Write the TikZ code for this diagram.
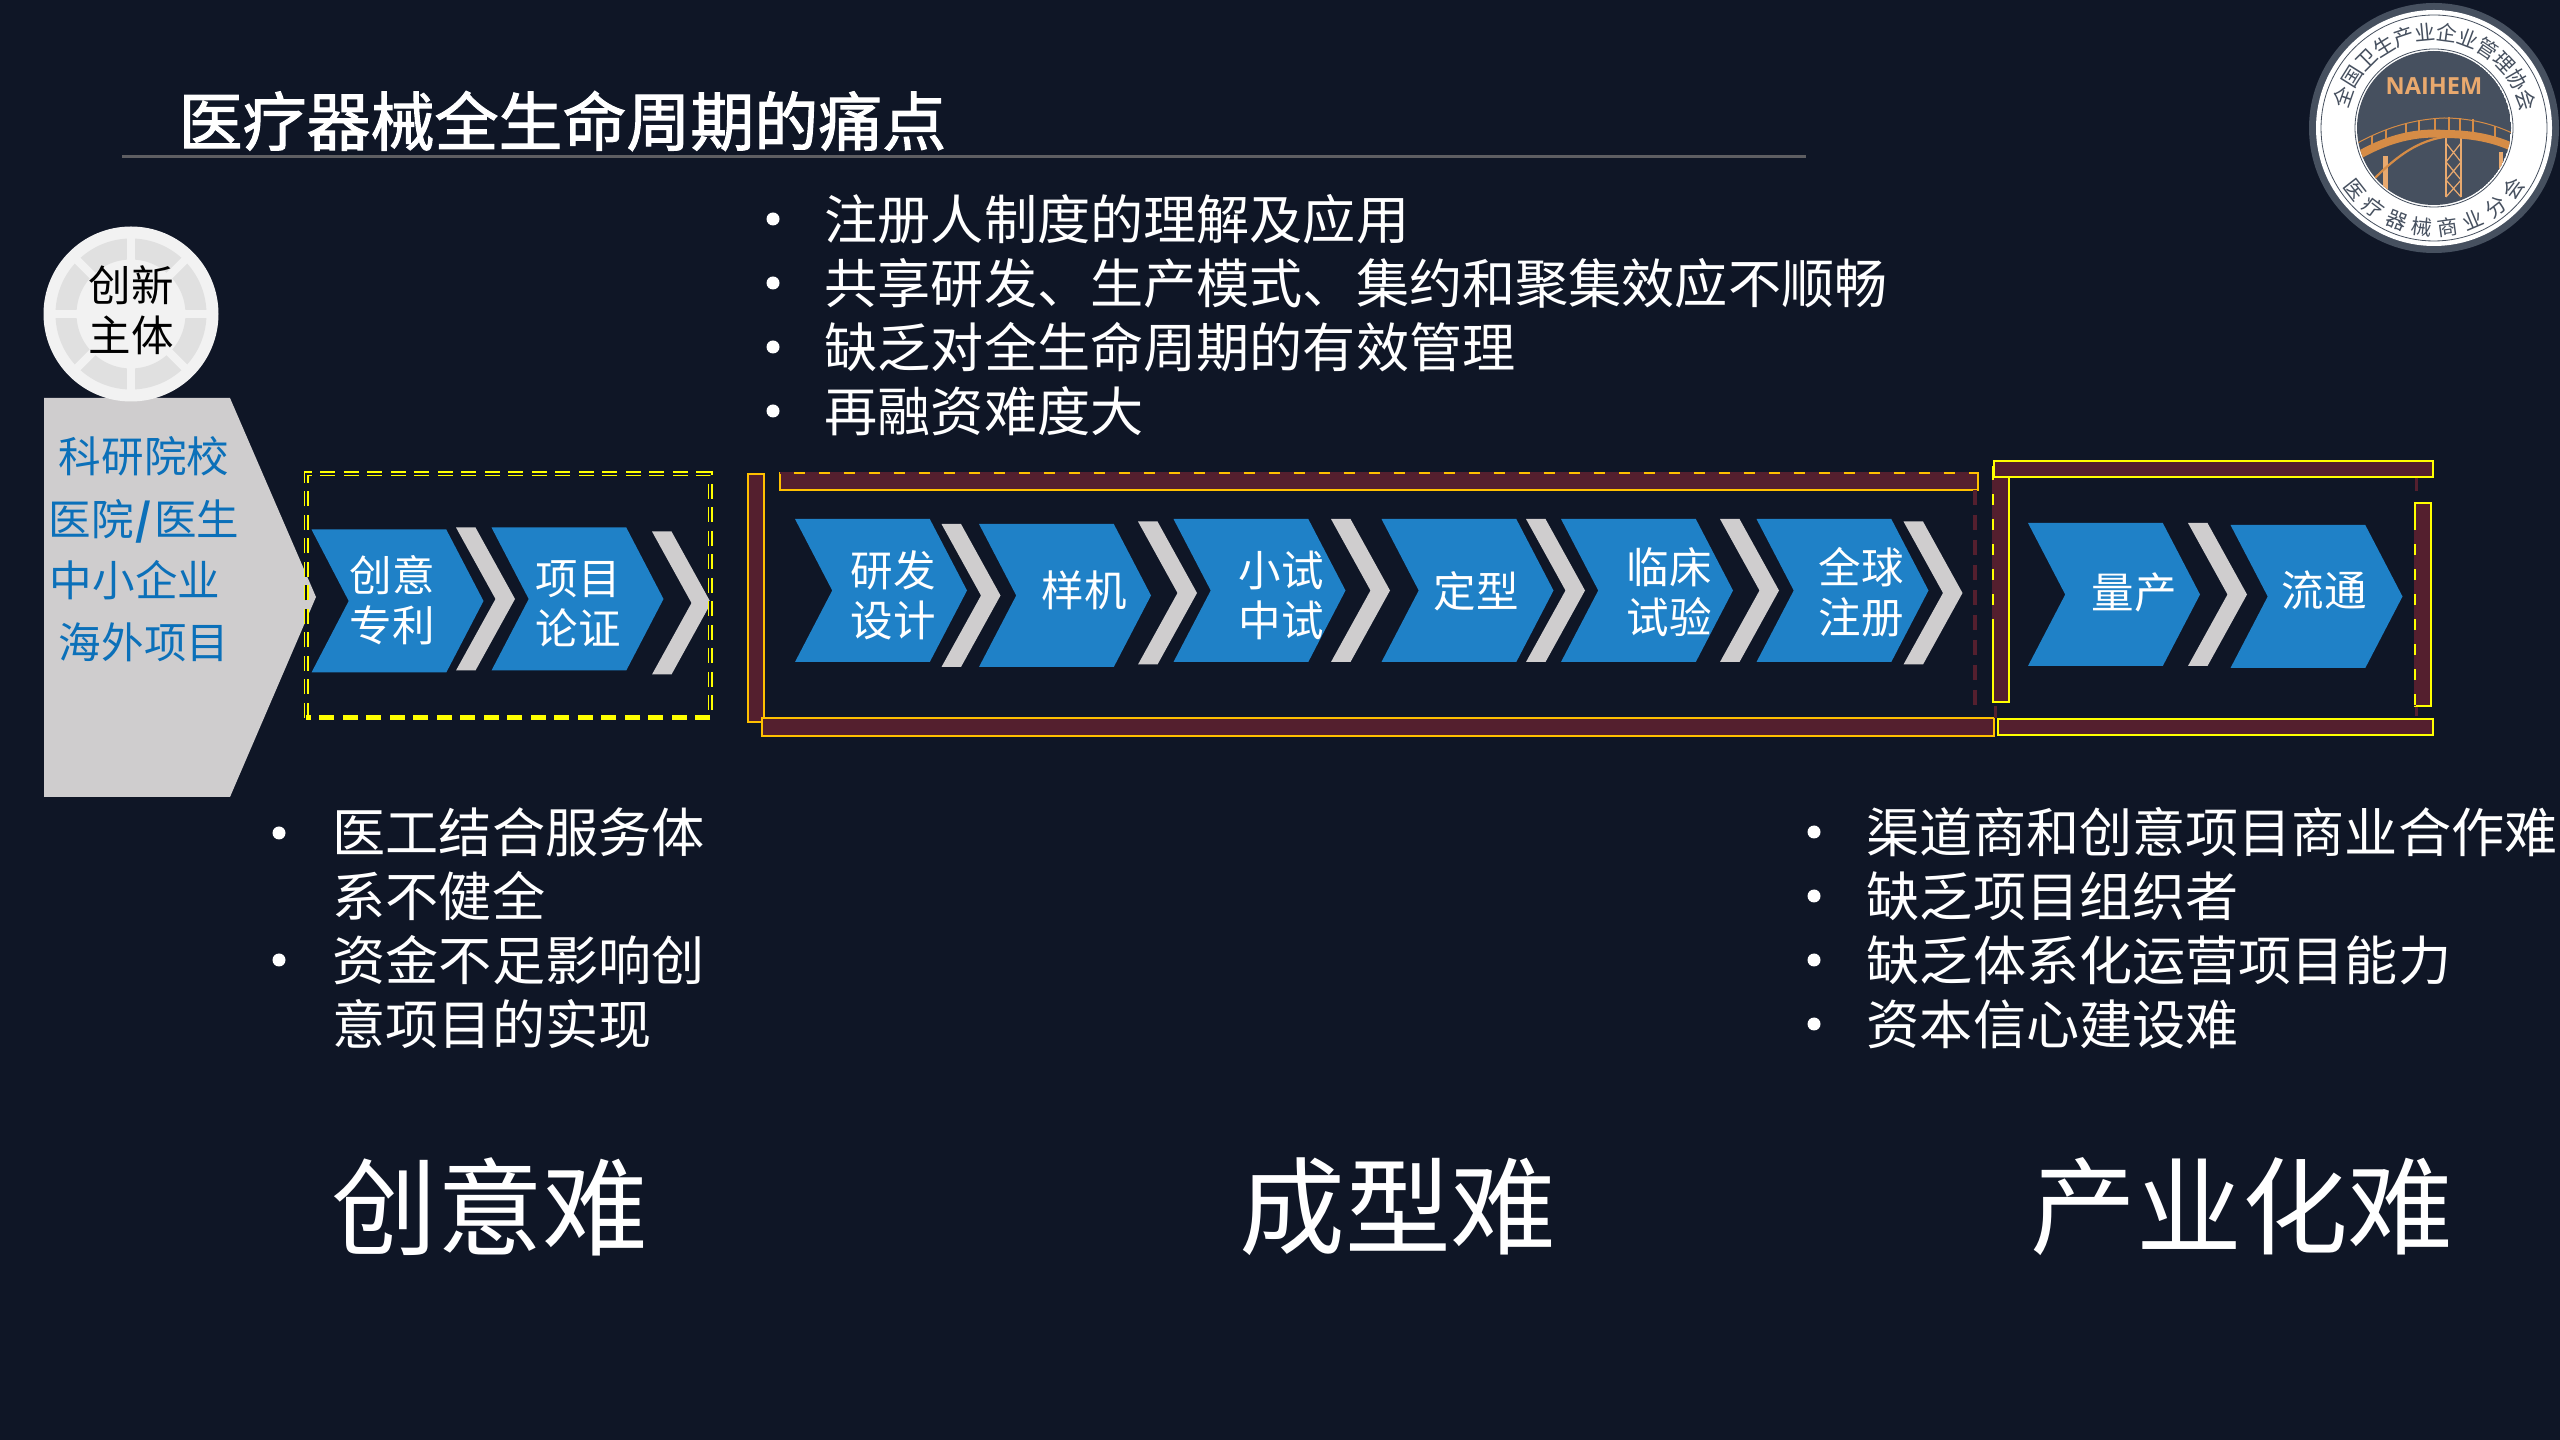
\documentclass[tikz,border=0pt]{standalone}
\usepackage{xcolor}
\usepackage{fontspec}
\setmainfont{Noto Sans CJK SC}
\newfontfamily\titlefont[FakeBold=1.6]{Noto Sans CJK SC}
\newfontfamily\logofont{Open Sans}
\usetikzlibrary{arrows.meta,positioning,shapes.symbols,calc}
\definecolor{bgdark}{RGB}{15,22,38}
\definecolor{chevblue}{RGB}{31,129,199}
\definecolor{chevgray}{RGB}{207,205,206}
\definecolor{textblue}{RGB}{11,112,185}
\definecolor{barred}{RGB}{84,31,46}
\definecolor{barorange}{RGB}{255,192,0}
\definecolor{baryellow}{RGB}{255,255,0}
\definecolor{rulegray}{RGB}{94,94,98}
\definecolor{slate}{RGB}{70,80,95}
\definecolor{archorange}{RGB}{214,140,70}
\definecolor{archlight}{RGB}{233,169,110}
\definecolor{hubwhite}{RGB}{242,242,242}
\definecolor{hubgray}{RGB}{224,224,224}

\begin{document}
\begin{tikzpicture}[
    x=0.1mm, y=-0.1mm,
    chev/.style={shape=signal, signal from=west, signal to=east, signal pointer angle=125,
                fill=chevblue, minimum width=17.2mm, minimum height=14.3mm,
                inner sep=0pt, outer sep=0pt},
    band/.pic={\fill[chevgray] (0,-71.5) -- ++(19.5,0) -- ++(39.5,71.5) -- ++(-39.5,71.5)
                -- ++(-19.5,0) -- ++(39.5,-71.5) -- cycle;},
    chevtext/.style={align=center, text=white, inner sep=0pt,
                font=\fontsize{12.1}{14.2}\selectfont},
    subject/.style={align=center, text=textblue, inner sep=0pt,
                font=\fontsize{12.1}{14.2}\selectfont},
    point/.style={anchor=west, align=left, text=white, inner sep=0pt,
                font=\fontsize{15.12}{18.2}\selectfont},
    dotmark/.style={circle, fill=white, minimum size=1.3mm, inner sep=0pt},
    hard/.style={text=white, inner sep=0pt, font=\fontsize{30.1}{32}\selectfont},
    orangebar/.style={draw=barorange, fill=barred, line width=0.2mm},
    yellowbar/.style={draw=baryellow, fill=barred, line width=0.22mm},
    edgegap/.style={line width=0.2mm, dash pattern=on 1.4mm off 1.1mm},
    dashgold/.style={line width=0.5mm, dash pattern=on 1.5mm off 0.85mm},
    sealtop/.style={text=slate, inner sep=0pt, font=\fontsize{5.9}{7}\selectfont},
]
\path[use as bounding box, fill=bgdark] (0,0) rectangle (2560,1440);

% title
\node[anchor=west, text=white, inner sep=0pt, font=\fontsize{18.2}{20}\selectfont\titlefont] (title) at (178,121) {医疗器械全生命周期的痛点};
\draw[rulegray, line width=0.28mm] (122,156.5) -- (1806,156.5);

% top list
\foreach \i/\txt in {0/注册人制度的理解及应用, 1/共享研发、生产模式、集约和聚集效应不顺畅, 2/缺乏对全生命周期的有效管理, 3/再融资难度大} {
    \node[point] (top\i) at (824,219+64*\i) {\txt};
    \node[dotmark] (topdot\i) at (773,219+64*\i) {};
}

% innovation subject
\fill[chevgray] (44,398) -- (230,398) -- (316,597) -- (230,797) -- (44,797) -- cycle;
\node[circle, fill=hubwhite, minimum size=17.5mm, inner sep=0pt] (hub) at (131,314) {};
\draw[hubgray, line width=2.1mm] (hub.center) circle (6.5mm);
\foreach \a in {0,45,...,315}
    \draw[hubwhite, line width=0.8mm] ($(hub.center)+(\a:5.3mm)$) -- ($(hub.center)+(\a:7.7mm)$);
\node[chevtext, text=black] (hubtext) at (131,310) {创新\\主体};
\node[subject] (sub1) at (144,456) {科研院校};
\node[subject] (sub2) at (144,521) {医院\kern0.2mm\textbf{/}\kern0.2mm医生};
\node[subject] (sub3) at (135,580) {中小企业};
\node[subject] (sub4) at (144,642) {海外项目};

% chevrons
\node[chev] (idea) at (397.5,601) {};
\pic (band1) at (456,599) {band};
\node[chev] (proj) at (577.5,599) {};
\pic (band2) at (652,603) {band};
\node[chev] (rnd) at (881,590.5) {};
\pic (band3) at (941.5,595.5) {band};
\node[chev] (proto) at (1065,595.5) {};
\pic (band4) at (1138,593) {band};
\node[chev] (pilot) at (1259.5,590.5) {};
\pic (band5) at (1331,590.5) {band};
\node[chev] (shape) at (1467.5,590.5) {};
\pic (band6) at (1526,590.5) {band};
\node[chev] (clinic) at (1647,590.5) {};
\pic (band7) at (1720,590.5) {band};
\node[chev] (regist) at (1842.5,590.5) {};
\pic (band8) at (1903.5,593) {band};
\node[chev] (mass) at (2114,594.5) {};
\pic (band9) at (2188,594.5) {band};
\node[chev] (sale) at (2316.5,596.5) {};

\node[chevtext] (ideatext) at (392,600) {创意\\专利};
\node[chevtext] (projtext) at (578,604) {项目\\论证};
\node[chevtext] (rndtext) at (893,595) {研发\\设计};
\node[chevtext] (prototext) at (1084,590) {样机};
\node[chevtext] (pilottext) at (1281,595) {小试\\中试};
\node[chevtext] (shapetext) at (1476,591) {定型};
\node[chevtext] (clinictext) at (1669,592) {临床\\试验};
\node[chevtext] (registtext) at (1861,592) {全球\\注册};
\node[chevtext] (masstext) at (2134,592) {量产};
\node[chevtext] (saletext) at (2324,590) {流通};

% frames
\draw[baryellow, dashgold] (306,718) -- (306,474) -- (710,474) -- (710,718);
\draw[bgdark, line width=0.12mm, dash pattern=on 1.5mm off 0.85mm] (306,718) -- (306,474) -- (710,474) -- (710,718);
\draw[baryellow, dashgold] (710,718) -- (306,718);

\draw[orangebar] (748,474) rectangle (764,722);
\draw[orangebar] (780,473) rectangle (1978,490);
\draw[barred, edgegap] (780,473) -- (1978,473);
\draw[orangebar] (762,718) rectangle (1994,736);
\draw[barred, line width=0.35mm, dash pattern=on 1.5mm off 1mm] (1975,490) -- (1975,713);

\draw[yellowbar] (1993,467) rectangle (2009,702);
\draw[barred, edgegap] (1993,480) -- (1993,620);
\draw[yellowbar] (1994,461) rectangle (2433,477);
\draw[yellowbar] (2415,503) rectangle (2431,706);
\draw[barred, edgegap] (2415,530) -- (2415,706);
\draw[yellowbar] (1998,719) rectangle (2433,735);
\draw[barred, line width=0.3mm] (2416,478) -- (2416,491);
\draw[barred, line width=0.3mm] (2416,707) -- (2416,716);
\draw[barred, line width=0.3mm] (1995,706) -- (1995,718);

% lower lists
\node[point] (left1) at (332,864.5) {医工结合服务体\\系不健全};
\node[point] (left2) at (332,992) {资金不足影响创\\意项目的实现};
\node[dotmark] (leftdot1) at (279,833) {};
\node[dotmark] (leftdot2) at (279,960) {};
\foreach \i/\txt in {0/渠道商和创意项目商业合作难, 1/缺乏项目组织者, 2/缺乏体系化运营项目能力, 3/资本信心建设难} {
    \node[point] (right\i) at (1866,832+64*\i) {\txt};
    \node[dotmark] (rightdot\i) at (1814,832+64*\i) {};
}

\node[hard] (hard1) at (490,1207) {创意难};
\node[hard] (hard2) at (1398,1207) {成型难};
\node[hard] (hard3) at (2242,1207) {产业化难};

% seal
\begin{scope}[shift={(2434,128)}, x=1mm, y=1mm]
\fill[slate] (0,0) circle (12.5);
\fill[white] (0,0) circle (11.8);
\draw[slate, line width=0.08mm] (0,0) circle (11.3);
\draw[slate, line width=0.08mm] (0,0) circle (7.9);
\begin{scope}
\clip (0,0) circle (7.7);
\fill[slate] (0,0) circle (7.7);
% central and side pillars
\draw[archlight, line width=0.25mm] (1.2,-0.9) -- (1.2,-6.9) (2.7,-0.9) -- (2.7,-6.9);
\draw[archlight, line width=0.12mm] (1.2,-1.5) -- (2.7,-3.4) -- (1.2,-5.2) -- (2.7,-6.9) (2.7,-1.5) -- (1.2,-3.4) -- (2.7,-5.2) -- (1.2,-6.9);
\draw[archlight, line width=0.5mm] (-4.9,-2.8) -- (-4.9,-6.4);
\draw[archlight, line width=0.35mm] (6.7,-2.4) -- (6.7,-4.4);
\draw[archorange, line width=0.22mm] (-5.9,-5) .. controls (-3.5,-2.6) and (-1.5,-1.3) .. (1,-0.9);
% deck
\draw[archorange, line width=0.8mm] (-8,-3) .. controls (-4.5,-0.9) and (-1.5,-0.4) .. (1,-0.6) .. controls (3.5,-0.6) and (6,-1) .. (8,-2);
% railing
\draw[archorange, line width=0.1mm] (-8,-1.7) .. controls (-4.5,0.3) and (-1.5,0.9) .. (1,1) .. controls (3.5,1) and (6,0.4) .. (8,-0.6);
\foreach \x/\y in {-6.2/-0.8, -4.8/-0.2, -2.8/0.5, -1.5/0.75, 0.1/1, 1.5/1.1, 2.6/1, 3.9/0.9, 6.1/0.15}
    \draw[archorange, line width=0.13mm] (\x,\y) -- ++(0,-1.5);
\end{scope}
\node[text=archlight, inner sep=0pt, font=\fontsize{6.7}{7}\selectfont\logofont\bfseries] (naihem) at (0,4.17) {NAIHEM};
\foreach \c [count=\i from 0] in {全,国,卫,生,产,业,企,业,管,理,协,会}
    \node[sealtop, rotate=161-13.1*\i-90] (sealu\i) at (161-13.1*\i:9.6) {\c};
\foreach \c [count=\i from 0] in {医,疗,器,械,商,业,分,会}
    \node[sealtop, rotate=218+15*\i+90] (seald\i) at (218+15*\i:10) {\c};
\end{scope}
\end{tikzpicture}
\end{document}
